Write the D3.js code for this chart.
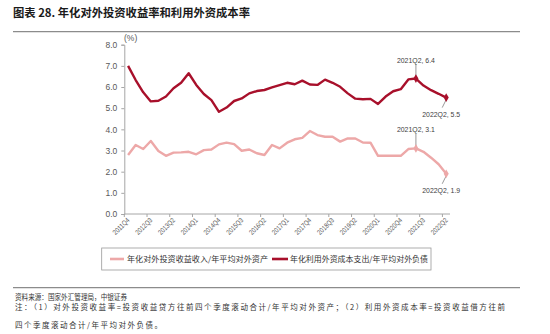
<!DOCTYPE html>
<html>
<head>
<meta charset="utf-8">
<script src="https://cdn.jsdelivr.net/npm/d3@7"></script>
<style>
  body { margin: 0; background: #fff; }
  svg { display: block; }
</style>
</head>
<body>
<svg id="chart" width="550" height="334"></svg>
<script>
// Quarterly categories, 2011Q4 – 2022Q2
const quarters = [
  "2011Q4",
  "2012Q1","2012Q2","2012Q3","2012Q4",
  "2013Q1","2013Q2","2013Q3","2013Q4",
  "2014Q1","2014Q2","2014Q3","2014Q4",
  "2015Q1","2015Q2","2015Q3","2015Q4",
  "2016Q1","2016Q2","2016Q3","2016Q4",
  "2017Q1","2017Q2","2017Q3","2017Q4",
  "2018Q1","2018Q2","2018Q3","2018Q4",
  "2019Q1","2019Q2","2019Q3","2019Q4",
  "2020Q1","2020Q2","2020Q3","2020Q4",
  "2021Q1","2021Q2","2021Q3","2021Q4",
  "2022Q1","2022Q2"
];

// 年化对外投资收益收入/年平均对外资产 (%)
const incomeYield = [
  2.79, 3.26, 3.07, 3.45, 2.98, 2.75, 2.90, 2.91, 2.94, 2.82,
  3.02, 3.05, 3.29, 3.37, 3.30, 2.99, 3.05, 2.87, 2.79, 3.26,
  3.10, 3.37, 3.53, 3.60, 3.92, 3.73, 3.65, 3.65, 3.42, 3.57,
  3.57, 3.38, 3.37, 2.75, 2.75, 2.75, 2.75, 3.07, 3.10, 2.94,
  2.66, 2.35, 1.90
];

// 年化利用外资成本支出/年平均对外负债 (%)
const costRate = [
  7.00, 6.33, 5.75, 5.32, 5.35, 5.55, 5.94, 6.20, 6.65, 6.10,
  5.67, 5.38, 4.83, 5.03, 5.34, 5.46, 5.70, 5.81, 5.86, 5.98,
  6.09, 6.20, 6.13, 6.30, 6.12, 6.10, 6.35, 6.20, 6.01, 5.70,
  5.45, 5.42, 5.44, 5.20, 5.55, 5.80, 5.90, 6.36, 6.40, 6.07,
  5.85, 5.68, 5.50
];

const yTicks = [0, 1, 2, 3, 4, 5, 6, 7, 8];
const xTickLabels = [
  "2011Q4","2012Q3","2013Q2","2014Q1","2014Q4","2015Q3","2016Q2","2017Q1",
  "2017Q4","2018Q3","2019Q2","2020Q1","2020Q4","2021Q3","2022Q2"
];

const seriesNames = ["年化对外投资收益收入/年平均对外资产", "年化利用外资成本支出/年平均对外负债"];
const seriesColors = ["#EDA8A8", "#A8102B"];

// Highlighted points: [series index, quarter]
const callouts = [
  [1, "2021Q2"], [1, "2022Q2"],
  [0, "2021Q2"], [0, "2022Q2"]
];

const title = "图表 28. 年化对外投资收益率和利用外资成本率";
const sourceText = "资料来源：国家外汇管理局，中银证券";
const noteLine1 = "注：（1）对外投资收益率=投资收益贷方往前四个季度滚动合计/年平均对外资产；（2）利用外资成本率=投资收益借方往前";
const noteLine2 = "四个季度滚动合计/年平均对外负债。";

const cjk = "'Noto Sans CJK SC', 'Noto Sans', sans-serif";
const latin = "'Liberation Sans', Arial, sans-serif";

const svg = d3.select("#chart");

// Title and rule
svg.append("text")
  .attr("x", 13).attr("y", 16.5)
  .attr("font-family", cjk).attr("font-size", 11).attr("font-weight", "bold")
  .attr("fill", "#1a1a1a")
  .attr("textLength", 237).attr("lengthAdjust", "spacingAndGlyphs")
  .text(title);
svg.append("line").attr("x1", 13).attr("x2", 520).attr("y1", 31.7).attr("y2", 31.7)
  .attr("stroke", "#8c8c8c").attr("stroke-width", 1.3);

// Scales
const x = d3.scaleBand().domain(quarters).range([124.3, 450]).paddingInner(0).paddingOuter(0);
const y = d3.scaleLinear().domain([0, 8]).range([214, 44.7]);
const cx = q => x(q) + x.bandwidth() / 2;

const axisColor = "#a6a6a6";
const labelColor = "#595959";

// Y axis
const yAxis = svg.append("g").attr("transform", "translate(124.3,0)")
  .call(d3.axisLeft(y).tickValues(yTicks).tickFormat(d3.format(".1f")).tickSize(3).tickPadding(4));
yAxis.select(".domain").attr("stroke", axisColor);
yAxis.selectAll(".tick line").attr("stroke", axisColor);
yAxis.selectAll(".tick text").attr("fill", labelColor)
  .attr("font-family", latin).attr("font-size", 8.5);

svg.append("text").attr("x", 124).attr("y", 41)
  .attr("font-family", latin).attr("font-size", 8.5).attr("fill", labelColor)
  .text("(%)");

// X axis: ticks on category boundaries every three quarters
const xAxisG = svg.append("g").attr("transform", "translate(0,214)");
xAxisG.append("line").attr("x1", 124.3).attr("x2", 450).attr("y1", 0).attr("y2", 0)
  .attr("stroke", axisColor);
xTickLabels.forEach(q => {
  const tx = x(q);
  xAxisG.append("line").attr("x1", tx).attr("x2", tx).attr("y1", 0).attr("y2", 3)
    .attr("stroke", axisColor);
  xAxisG.append("text")
    .attr("transform", `translate(${tx + 4},5) rotate(-45)`)
    .attr("text-anchor", "end").attr("dy", "0.35em")
    .attr("font-family", latin).attr("font-size", 7.2).attr("fill", labelColor)
    .attr("textLength", 20.5).attr("lengthAdjust", "spacingAndGlyphs")
    .text(q);
});

// Lines
const line = d3.line().x((d, i) => cx(quarters[i])).y(d => y(d));
[incomeYield, costRate].forEach((vals, s) => {
  svg.append("path").datum(vals)
    .attr("fill", "none").attr("stroke", seriesColors[s])
    .attr("stroke-width", 2.4).attr("stroke-linejoin", "round")
    .attr("d", line);
});

// Callouts
const seriesData = [incomeYield, costRate];
callouts.forEach(([s, q]) => {
  const i = quarters.indexOf(q);
  const v = seriesData[s][i];
  const px = cx(q), py = y(v);
  const isLast = i === quarters.length - 1;
  const label = `${q}, ${d3.format(".1f")(v)}`;
  let lx1, ly1, lx2, ly2, tx, ty;
  if (isLast) {
    lx1 = px; ly1 = py + 2; lx2 = px - 4; ly2 = py + 10;
    tx = px - 5; ty = py + 19;
  } else {
    lx1 = px; ly1 = py - 2; lx2 = px; ly2 = py - 14.5;
    tx = px; ty = py - 16;
  }
  svg.append("line").attr("x1", lx1).attr("y1", ly1).attr("x2", lx2).attr("y2", ly2)
    .attr("stroke", "#7f7f7f").attr("stroke-width", 0.8);
  svg.append("path")
    .attr("transform", `translate(${px},${py})`)
    .attr("d", d3.symbol(d3.symbolDiamond, 22)())
    .attr("fill", seriesColors[s]);
  svg.append("text").attr("x", tx).attr("y", ty)
    .attr("text-anchor", "middle")
    .attr("font-family", latin).attr("font-size", 8).attr("fill", "#404040")
    .attr("textLength", 38).attr("lengthAdjust", "spacingAndGlyphs")
    .text(label);
});

// Legend
svg.append("rect").attr("x", 101.7).attr("y", 248).attr("width", 329.3).attr("height", 22)
  .attr("fill", "none").attr("stroke", "#999").attr("stroke-width", 0.8);
const legendItems = [
  { x0: 110, x1: 124, tx: 127, w: 141 },
  { x0: 272, x1: 288, tx: 290, w: 138 }
];
legendItems.forEach((it, s) => {
  svg.append("line").attr("x1", it.x0).attr("x2", it.x1).attr("y1", 259).attr("y2", 259)
    .attr("stroke", seriesColors[s]).attr("stroke-width", 2.6);
  svg.append("text").attr("x", it.tx).attr("y", 262)
    .attr("font-family", cjk).attr("font-size", 7.6).attr("fill", "#333")
    .attr("textLength", it.w).attr("lengthAdjust", "spacingAndGlyphs")
    .text(seriesNames[s]);
});

// Footer
svg.append("line").attr("x1", 13).attr("x2", 520).attr("y1", 287.7).attr("y2", 287.7)
  .attr("stroke", "#8c8c8c").attr("stroke-width", 1.3);
svg.append("text").attr("x", 15).attr("y", 300)
  .attr("font-family", cjk).attr("font-size", 7.5).attr("fill", "#333")
  .attr("textLength", 112).attr("lengthAdjust", "spacingAndGlyphs")
  .text(sourceText);
svg.append("text").attr("x", 15).attr("y", 310)
  .attr("font-family", cjk).attr("font-size", 7.5).attr("fill", "#333")
  .attr("textLength", 490).attr("lengthAdjust", "spacing")
  .text(noteLine1);
svg.append("text").attr("x", 15).attr("y", 328)
  .attr("font-family", cjk).attr("font-size", 7.5).attr("fill", "#333")
  .attr("textLength", 147).attr("lengthAdjust", "spacing")
  .text(noteLine2);
</script>
</body>
</html>
